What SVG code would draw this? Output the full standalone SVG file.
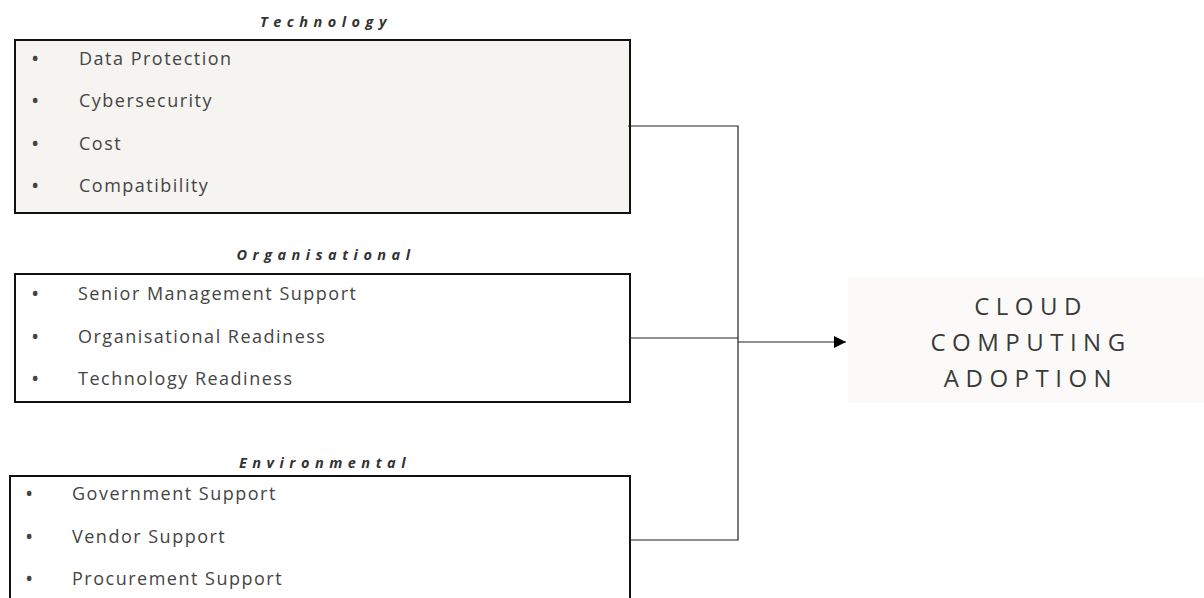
<svg xmlns="http://www.w3.org/2000/svg" width="1204" height="598" viewBox="0 0 1204 598">
<style>
.box{stroke:#111;stroke-width:2}
.item{font-family:"Open Sans","Liberation Sans",sans-serif;font-size:18px;fill:#444;letter-spacing:1.5px}
.bul{font-size:22px;letter-spacing:0}
.head{font-family:"Open Sans","Liberation Sans",sans-serif;font-size:14.5px;font-weight:bold;font-style:italic;fill:#333;letter-spacing:5.5px;text-anchor:middle}
.conn{stroke:#222;stroke-width:1.2;fill:none}
.big{font-family:"Open Sans","Liberation Sans",sans-serif;font-size:24px;fill:#3a3a3a;letter-spacing:6.5px;text-anchor:middle}
</style>
<defs>
<marker id="arr" viewBox="0 0 10 10" refX="10" refY="5" markerWidth="12" markerHeight="12" markerUnits="userSpaceOnUse" orient="auto">
<path d="M0,0 L10,5 L0,10 z" fill="#000"/>
</marker>
</defs>
<rect width="1204" height="598" fill="#fff"/>
<g id="technology">
<text class="head" x="326" y="27">Technology</text>
<rect class="box" x="15" y="40" width="615" height="173" fill="#f5f4f1"/>
<g class="item">
<text class="bul" x="31" y="66">•</text><text x="79" y="65">Data Protection</text>
<text class="bul" x="31" y="108">•</text><text x="79" y="107">Cybersecurity</text>
<text class="bul" x="31" y="151">•</text><text x="79" y="150">Cost</text>
<text class="bul" x="31" y="193">•</text><text x="79" y="192">Compatibility</text>
</g>
</g>
<g id="organisational">
<text class="head" x="326" y="260">Organisational</text>
<rect class="box" x="15" y="274" width="615" height="128" fill="#fff"/>
<g class="item">
<text class="bul" x="31" y="301">•</text><text x="78" y="300">Senior Management Support</text>
<text class="bul" x="31" y="344">•</text><text x="78" y="343">Organisational Readiness</text>
<text class="bul" x="31" y="386">•</text><text x="78" y="385">Technology Readiness</text>
</g>
</g>
<g id="environmental">
<text class="head" x="325" y="468">Environmental</text>
<rect class="box" x="10" y="476" width="620" height="130" fill="#fff"/>
<g class="item">
<text class="bul" x="25" y="501">•</text><text x="72" y="500">Government Support</text>
<text class="bul" x="25" y="544">•</text><text x="72" y="543">Vendor Support</text>
<text class="bul" x="25" y="586">•</text><text x="72" y="585">Procurement Support</text>
</g>
</g>
<g id="outcome">
<rect x="848" y="278" width="356" height="125" fill="#fcfaf9"/>
<text class="big" x="1031" y="315">CLOUD</text>
<text class="big" x="1031" y="351">COMPUTING</text>
<text class="big" x="1031" y="387">ADOPTION</text>
</g>
<g id="connectors">
<polyline class="conn" points="628,126 738,126 738,540 630,540"/>
<line class="conn" x1="630" y1="338" x2="738" y2="338"/>
<line class="conn" x1="738" y1="342" x2="846" y2="342" stroke-width="1.6" marker-end="url(#arr)"/>
</g>
</svg>
